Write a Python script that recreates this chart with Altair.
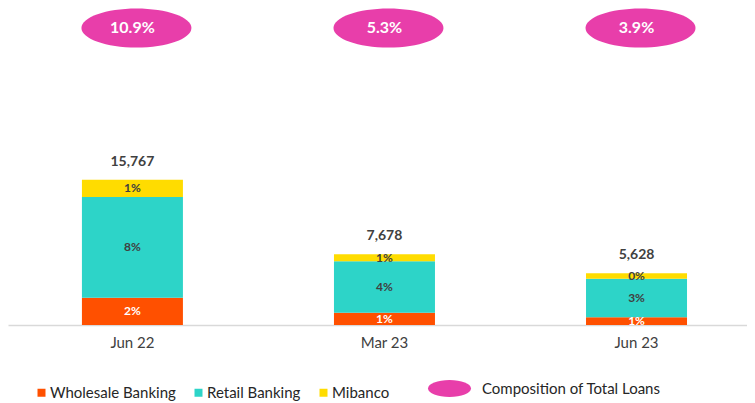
import altair as alt
import pandas as pd

periods = ["Jun 22", "Mar 23", "Jun 23"]
segments = ["Wholesale Banking", "Retail Banking", "Mibanco"]
seg_colors = ["#FF5000", "#2DD4C8", "#FFDC00"]

wholesale = [2954, 1325, 850]
retail = [10923, 5603, 4175]
mibanco = [1890, 750, 603]

pct_wholesale = ["2%", "1%", "1%"]
pct_retail = ["8%", "4%", "3%"]
pct_mibanco = ["1%", "1%", "0%"]

totals = [15767, 7678, 5628]
total_labels = ["15,767", "7,678", "5,628"]

composition = ["10.9%", "5.3%", "3.9%"]
composition_name = "Composition of Total Loans"

FONT = "Lato"
PINK = "#E83EAA"


def ellipse_path(r):
    c = 0.5523
    return (f"M -1 0 C -1 {-c*r:.4f} {-c:.4f} {-r:.4f} 0 {-r:.4f} "
            f"C {c:.4f} {-r:.4f} 1 {-c*r:.4f} 1 0 "
            f"C 1 {c*r:.4f} {c:.4f} {r:.4f} 0 {r:.4f} "
            f"C {-c:.4f} {r:.4f} -1 {c*r:.4f} -1 0 Z")


rows = []
for i, p in enumerate(periods):
    for k, (seg, vals, pcts) in enumerate(zip(
            segments, [wholesale, retail, mibanco],
            [pct_wholesale, pct_retail, pct_mibanco])):
        rows.append({"period": p, "segment": seg, "order": k,
                     "value": vals[i], "pct": pcts[i]})
seg_df = pd.DataFrame(rows)

tot_df = pd.DataFrame({"period": periods, "total": totals,
                       "label": total_labels})
comp_df = pd.DataFrame({"period": periods, "comp": composition,
                        "name": [composition_name] * len(periods)})

x_enc = alt.X("period:N", sort=periods, title=None,
              scale=alt.Scale(paddingInner=0.6, paddingOuter=0.266, align=0.552),
              axis=alt.Axis(labelAngle=0, ticks=False, domainColor="#D9D9D9",
                            domainWidth=1.6, labelFont=FONT, labelFontSize=15,
                            labelColor="#404040", labelPadding=10))
y_scale = alt.Scale(domain=[0, 34400], nice=False, zero=True)

bars = alt.Chart(seg_df).mark_bar(size=101).encode(
    x=x_enc,
    y=alt.Y("value:Q", stack="zero", scale=y_scale, axis=None),
    color=alt.Color("segment:N", sort=segments,
                    scale=alt.Scale(domain=segments, range=seg_colors),
                    legend=alt.Legend(orient="none", legendX=26, legendY=377,
                                      direction="horizontal", title=None,
                                      symbolType="square", symbolSize=64,
                                      symbolStrokeWidth=0, labelFont=FONT,
                                      labelFontSize=15, labelColor="#262626",
                                      labelOffset=1, columnPadding=15,
                                      labelLimit=0)),
    order=alt.Order("order:Q"),
)

pct_text = alt.Chart(seg_df).transform_stack(
    stack="value", groupby=["period"], as_=["y0", "y1"],
    sort=[alt.SortField("order", order="ascending")]
).transform_calculate(
    mid="(datum.y0 + datum.y1) / 2"
).mark_text(font=FONT, fontSize=12, fontWeight="bold", baseline="middle").encode(
    x=alt.X("period:N", sort=periods),
    y=alt.Y("mid:Q", scale=y_scale),
    text="pct:N",
    color=alt.condition("datum.segment == 'Wholesale Banking'",
                        alt.value("white"), alt.value("#404040")),
)

tot_text = alt.Chart(tot_df).mark_text(
    font=FONT, fontSize=14, fontWeight="bold", baseline="middle", dy=-18,
    color="#404040"
).encode(
    x=alt.X("period:N", sort=periods),
    y=alt.Y("total:Q", scale=y_scale),
    text="label:N",
)

ellipses = alt.Chart(comp_df).mark_point(
    shape=ellipse_path(0.355), size=12100, filled=True, opacity=1,
    strokeWidth=0, xOffset=4
).encode(
    x=alt.X("period:N", sort=periods),
    y=alt.value(20),
    fill=alt.Fill("name:N", scale=alt.Scale(range=[PINK]),
                  legend=alt.Legend(orient="none", legendX=420, legendY=359,
                                    title=None, symbolType=ellipse_path(0.39),
                                    symbolSize=1849, symbolStrokeWidth=0,
                                    labelFont=FONT, labelFontSize=15,
                                    labelColor="#262626", labelOffset=11,
                                    labelLimit=0)),
)

comp_text = alt.Chart(comp_df).mark_text(
    font=FONT, fontSize=16, fontWeight="bold", color="white", baseline="middle"
).encode(
    x=alt.X("period:N", sort=periods),
    y=alt.value(20),
    text="comp:N",
)

chart = alt.layer(bars, pct_text, tot_text, ellipses, comp_text).resolve_scale(
    color="independent"
).properties(
    width=739, height=317, padding=0
).configure_view(stroke=None)

chart.save("out.html", embed_options={"renderer": "svg", "actions": False})
